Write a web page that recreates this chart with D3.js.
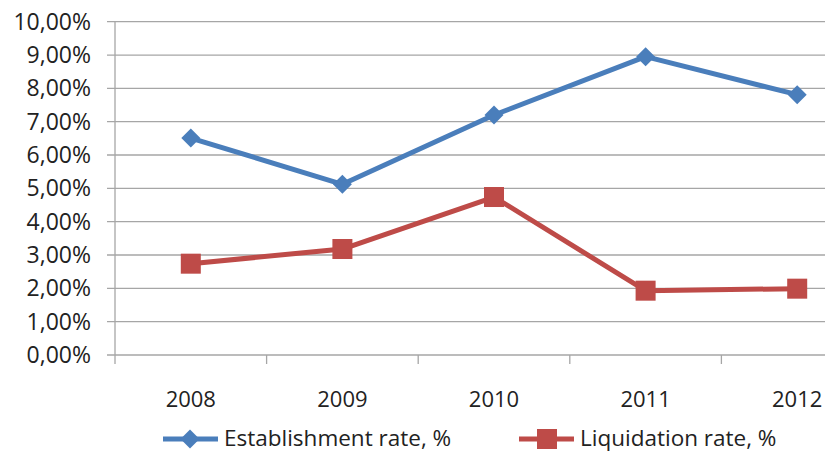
<!DOCTYPE html>
<html>
<head>
<meta charset="utf-8">
<script src="https://cdn.jsdelivr.net/npm/d3@7"></script>
<style>
  body { margin: 0; background: #fff; }
  svg { display: block; font-family: "Open Sans", sans-serif; }
</style>
</head>
<body>
<svg id="chart" width="825" height="452"></svg>
<script>
// chart data
var years = ["2008", "2009", "2010", "2011", "2012"];
var establishment = [6.51, 5.12, 7.2, 8.95, 7.81];
var liquidation = [2.74, 3.18, 4.74, 1.93, 1.99];
var seriesNames = ["Establishment rate, %", "Liquidation rate, %"];
var yTicks = [0, 1, 2, 3, 4, 5, 6, 7, 8, 9, 10];

var svg = d3.select("#chart");

// plot area (right side is cut off by the picture edge)
var plotLeft = 115, plotTop = 21.7, plotBottom = 355, bandW = 151.6;

var xScale = d3.scaleBand()
  .domain(years)
  .range([plotLeft, plotLeft + bandW * years.length]);

var yScale = d3.scaleLinear()
  .domain([0, 10])
  .range([plotBottom, plotTop]);

var fmt = function (d) { return d.toFixed(2).replace(".", ",") + "%"; };

// gridlines
svg.append("g").selectAll("line")
  .data(yTicks)
  .enter().append("line")
  .attr("x1", plotLeft - 8)
  .attr("x2", 900)
  .attr("y1", function (d) { return yScale(d); })
  .attr("y2", function (d) { return yScale(d); })
  .attr("stroke", "#a6a6a6")
  .attr("stroke-width", 1.3);

// y axis line
svg.append("line")
  .attr("x1", plotLeft).attr("x2", plotLeft)
  .attr("y1", plotTop).attr("y2", plotBottom)
  .attr("stroke", "#a6a6a6").attr("stroke-width", 1.3);

// x tick marks at band boundaries
svg.append("g").selectAll("line")
  .data(years)
  .enter().append("line")
  .attr("x1", function (d) { return xScale(d); })
  .attr("x2", function (d) { return xScale(d); })
  .attr("y1", plotBottom)
  .attr("y2", plotBottom + 9)
  .attr("stroke", "#a6a6a6").attr("stroke-width", 1.3);

// y labels
svg.append("g").selectAll("text")
  .data(yTicks)
  .enter().append("text")
  .attr("x", 91)
  .attr("y", function (d) { return yScale(d) + 8; })
  .attr("text-anchor", "end")
  .attr("font-size", 23)
  .attr("fill", "#222")
  .text(fmt);

// x labels
svg.append("g").selectAll("text")
  .data(years)
  .enter().append("text")
  .attr("x", function (d) { return xScale(d) + xScale.bandwidth() / 2; })
  .attr("y", 407)
  .attr("text-anchor", "middle")
  .attr("font-size", 22)
  .attr("fill", "#222")
  .text(function (d) { return d; });

var line = d3.line()
  .x(function (d, i) { return xScale(years[i]) + xScale.bandwidth() / 2; })
  .y(function (d) { return yScale(d); });

var blue = "#4a7ebb", red = "#be4b48";

// establishment series
svg.append("path")
  .datum(establishment)
  .attr("d", line)
  .attr("fill", "none")
  .attr("stroke", blue)
  .attr("stroke-width", 5)
  .attr("stroke-linejoin", "round");

svg.append("g").selectAll("path")
  .data(establishment)
  .enter().append("path")
  .attr("d", d3.symbol(d3.symbolDiamond2, 230))
  .attr("transform", function (d, i) {
    return "translate(" + (xScale(years[i]) + xScale.bandwidth() / 2) + "," + yScale(d) + ")";
  })
  .attr("fill", blue);

// liquidation series
svg.append("path")
  .datum(liquidation)
  .attr("d", line)
  .attr("fill", "none")
  .attr("stroke", red)
  .attr("stroke-width", 5)
  .attr("stroke-linejoin", "round");

svg.append("g").selectAll("rect")
  .data(liquidation)
  .enter().append("rect")
  .attr("x", function (d, i) { return xScale(years[i]) + xScale.bandwidth() / 2 - 10; })
  .attr("y", function (d) { return yScale(d) - 10; })
  .attr("width", 20)
  .attr("height", 20)
  .attr("fill", red);

// legend
var legend = [
  { name: seriesNames[0], color: blue, x: 163 },
  { name: seriesNames[1], color: red, x: 519 }
];
legend.forEach(function (l, i) {
  var g = svg.append("g");
  g.append("line")
    .attr("x1", l.x).attr("x2", l.x + 55)
    .attr("y1", 439).attr("y2", 439)
    .attr("stroke", l.color).attr("stroke-width", 5);
  if (i === 0) {
    g.append("path")
      .attr("d", d3.symbol(d3.symbolDiamond2, 230))
      .attr("transform", "translate(" + (l.x + 27) + ",439)")
      .attr("fill", l.color);
  } else {
    g.append("rect")
      .attr("x", l.x + 18).attr("y", 429)
      .attr("width", 20).attr("height", 20)
      .attr("fill", l.color);
  }
  g.append("text")
    .attr("x", l.x + 61)
    .attr("y", 446)
    .attr("font-size", 22.5)
    .attr("fill", "#222")
    .text(l.name);
});
</script>
</body>
</html>
